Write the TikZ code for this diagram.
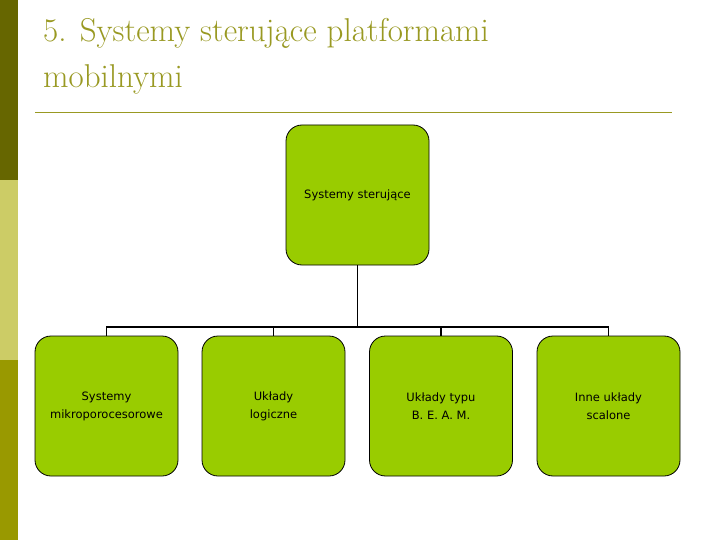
\documentclass[tikz,border=0pt]{standalone}
\usepackage{fontspec}
\setmainfont{Latin Modern Roman}
\newfontfamily\boxfont{DejaVu Sans}
\definecolor{olive1}{HTML}{666600}
\definecolor{olive2}{HTML}{CCCC66}
\definecolor{olive3}{HTML}{999900}
\definecolor{titlec}{HTML}{999922}
\definecolor{boxc}{HTML}{99CC00}
\begin{document}
\begin{tikzpicture}[x=1pt,y=-1pt,
  bx/.style={draw=black,fill=boxc,rounded corners=16pt,line width=0.8pt,minimum width=143pt,minimum height=140pt,align=center,font=\boxfont\fontsize{11.5}{18}\selectfont,inner sep=0pt},
  ln/.style={line width=1.5pt}]
\useasboundingbox (0,0) rectangle (720,540);
\fill[white] (0,0) rectangle (720,540);
\fill[olive1] (0,0) rectangle (18,180);
\fill[olive2] (0,180) rectangle (18,360);
\fill[olive3] (0,360) rectangle (18,540);
\node[anchor=north west,text=titlec,align=left,font=\fontsize{33}{46}\selectfont,inner sep=0pt] (t) at (43,18) {5. Systemy sterujące platformami\\mobilnymi};
\draw[titlec,line width=1pt] (35,113) -- (672,113);
\node[bx] (top) at (357.5,195) {Systemy sterujące};
\node[bx] (b1) at (106.5,406) {Systemy\\mikroporocesorowe};
\node[bx] (b2) at (273.5,406) {Układy\\logiczne};
\node[bx] (b3) at (441,406) {Układy typu\\B. E. A. M.};
\node[bx] (b4) at (608.5,406) {Inne układy\\scalone};
\coordinate (j) at (357.5,327);
\draw[ln] (top.south) -- (j);
\draw[ln] (b1.north) |- (j) -| (b4.north);
\draw[ln] (b2.north) -- (b2.north |- j);
\draw[ln] (b3.north) -- (b3.north |- j);
\end{tikzpicture}
\end{document}
